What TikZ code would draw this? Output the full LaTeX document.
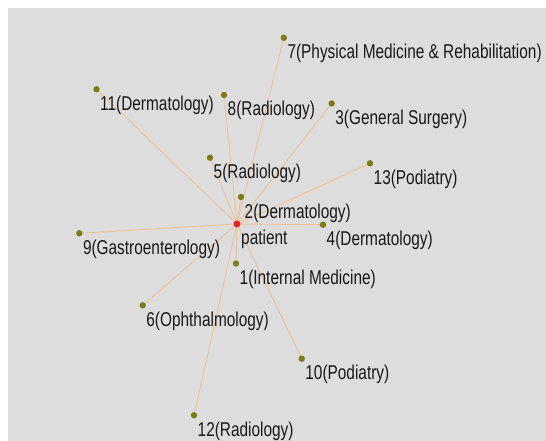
\documentclass[tikz,border=0pt]{standalone}
\usepackage{fontspec}
\setmainfont[FakeStretch=0.77]{Liberation Sans}
\usetikzlibrary{calc}
\definecolor{bgray}{RGB}{221,221,221}
\definecolor{edgec}{RGB}{236,194,150}
\definecolor{olivedot}{RGB}{118,126,22}
\definecolor{reddot}{RGB}{238,32,40}
\definecolor{txt}{RGB}{24,24,24}
\tikzset{
  dept/.style={circle,fill=olivedot,inner sep=0pt,minimum size=6.4pt},
  hub/.style={circle,fill=reddot,inner sep=0pt,minimum size=7pt},
  link/.style={draw=edgec,line width=0.9pt},
  lbl/.style={anchor=base west,inner sep=0pt,text=txt,font=\fontsize{20}{24}\selectfont},
}
\begin{document}
\begin{tikzpicture}[x=1pt,y=-1pt]
  \useasboundingbox (0,0) rectangle (546,441);
  \fill[bgray] (8,8) rectangle (546,441);

  % node positions
  \coordinate (c0) at (237,224);
  \coordinate (c1) at (236,263.5);
  \coordinate (c2) at (241,197);
  \coordinate (c3) at (331.7,103.5);
  \coordinate (c4) at (323,224.7);
  \coordinate (c5) at (210,157.7);
  \coordinate (c6) at (142.7,305.3);
  \coordinate (c7) at (283.8,37.8);
  \coordinate (c8) at (224,95);
  \coordinate (c9) at (79.3,233.3);
  \coordinate (c10) at (301.7,358.7);
  \coordinate (c11) at (96.5,89.3);
  \coordinate (c12) at (194,415.3);
  \coordinate (c13) at (370,163.3);

  % edges from the patient to every department
  \foreach \i in {1,...,13} {
    \draw[link] (c0) -- (c\i);
  }

  % department dots
  \foreach \i in {1,...,13} {
    \node[dept] (n\i) at (c\i) {};
  }
  \node[hub] (p) at (c0) {};

  % labels
  \node[lbl] (tp) at ($(p)+(4,20.5)$) {patient};
  \node[lbl] (t1) at ($(n1)+(3.5,21)$) {1(Internal Medicine)};
  \node[lbl] (t2) at ($(n2)+(3.5,21)$) {2(Dermatology)};
  \node[lbl] (t3) at ($(n3)+(3.5,21)$) {3(General Surgery)};
  \node[lbl] (t4) at ($(n4)+(3.5,21)$) {4(Dermatology)};
  \node[lbl] (t5) at ($(n5)+(3.5,21)$) {5(Radiology)};
  \node[lbl] (t6) at ($(n6)+(3.5,21)$) {6(Ophthalmology)};
  \node[lbl] (t7) at ($(n7)+(3.5,21)$) {7(Physical Medicine \& Rehabilitation)};
  \node[lbl] (t8) at ($(n8)+(3.5,21)$) {8(Radiology)};
  \node[lbl] (t9) at ($(n9)+(3.5,21)$) {9(Gastroenterology)};
  \node[lbl] (t10) at ($(n10)+(3.5,21)$) {10(Podiatry)};
  \node[lbl] (t11) at ($(n11)+(3.5,21)$) {11(Dermatology)};
  \node[lbl] (t12) at ($(n12)+(3.5,21)$) {12(Radiology)};
  \node[lbl] (t13) at ($(n13)+(3.5,21)$) {13(Podiatry)};
\end{tikzpicture}
\end{document}
